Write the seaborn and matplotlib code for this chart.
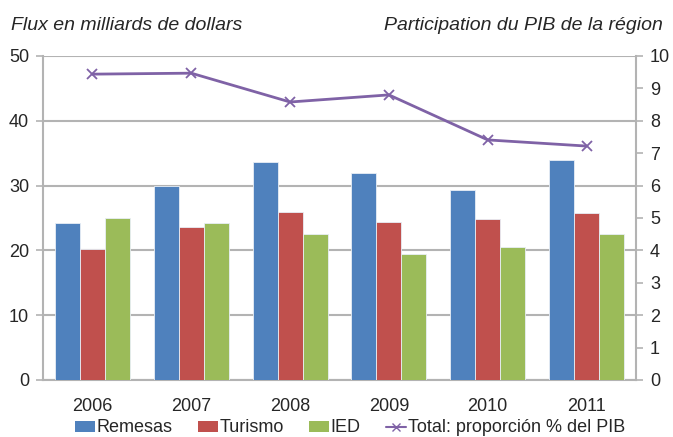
import matplotlib
matplotlib.use("Agg")
import matplotlib.pyplot as plt
from matplotlib.lines import Line2D
from matplotlib.patches import Patch
import numpy as np
import pandas as pd
import seaborn as sns

years = ["2006", "2007", "2008", "2009", "2010", "2011"]
remesas = [24.2, 29.9, 33.6, 31.9, 29.3, 34.0]
turismo = [20.2, 23.6, 25.9, 24.4, 24.8, 25.8]
ied = [25.0, 24.2, 22.5, 19.4, 20.5, 22.5]
total_pib = [9.44, 9.47, 8.58, 8.80, 7.41, 7.22]

series = ["Remesas", "Turismo", "IED"]
colors = ["#4F81BD", "#C0504D", "#9BBB59"]
line_color = "#7F62A6"
grid_color = "#B3B3B3"

sns.set_style("white")
plt.rcParams["font.family"] = ["Liberation Sans", "DejaVu Sans"]
plt.rcParams["font.size"] = 13

df = pd.DataFrame({
    "year": years * 3,
    "value": remesas + turismo + ied,
    "serie": [s for s in series for _ in years],
})

fig = plt.figure(figsize=(6.73, 4.37), dpi=100)
ax = fig.add_axes([43 / 673, 1 - 380 / 437, (636 - 43) / 673, (380 - 56) / 437])

sns.barplot(data=df, x="year", y="value", hue="serie", hue_order=series,
            palette=colors, saturation=1, width=0.76, ax=ax, legend=False,
            edgecolor="#E8EEF6", linewidth=0.6, zorder=3)

ax.set_xlim(-0.5, 5.5)
ax.set_ylim(0, 50)
ax.set_yticks(range(0, 51, 10))
ax.yaxis.grid(True, color=grid_color, linewidth=1.5, zorder=0)
ax.set_axisbelow(True)
ax.set_xlabel("")
ax.set_ylabel("")
ax.set_xticks(range(len(years)))
ax.set_xticks(np.arange(-0.5, 5.6, 1), minor=True)
ax.tick_params(axis="x", which="major", length=0, pad=13, labelsize=13)
ax.tick_params(axis="x", which="minor", length=5, color=grid_color, width=1.2, direction="out")
ax.tick_params(axis="y", length=5, color=grid_color, width=1.2, direction="out", pad=5, labelsize=13)
for side in ["left", "bottom"]:
    ax.spines[side].set_color(grid_color)
    ax.spines[side].set_linewidth(1.5)
ax.spines["top"].set_visible(False)
ax.spines["right"].set_visible(False)

ax2 = ax.twinx()
sns.lineplot(x=np.arange(len(years)), y=total_pib, ax=ax2, color=line_color,
             linewidth=2, marker="x", markersize=7, markeredgewidth=1.3,
             markeredgecolor=line_color, zorder=5)
ax2.set_ylim(0, 10)
ax2.set_yticks(range(0, 11))
ax2.tick_params(axis="y", length=5, color=grid_color, width=1.2, direction="out", pad=5, labelsize=13)
ax2.spines["right"].set_color(grid_color)
ax2.spines["right"].set_linewidth(1.5)
for side in ["left", "top", "bottom"]:
    ax2.spines[side].set_visible(False)
ax2.set_ylabel("")

fig.text(11 / 673, 1 - 25 / 437, "Flux en milliards de dollars", fontsize=14,
         style="italic", ha="left", va="center")
fig.text(663 / 673, 1 - 25 / 437, "Participation du PIB de la région", fontsize=14,
         style="italic", ha="right", va="center")

handles = [Patch(facecolor=c, edgecolor="none") for c in colors]
handles.append(Line2D([], [], color=line_color, linewidth=1.5, marker="x",
                      markersize=6, markeredgecolor=line_color))
fig.legend(handles, series + ["Total: proporción % del PIB"], loc="center",
           bbox_to_anchor=(350 / 673, 1 - 428 / 437), ncol=4, frameon=False,
           fontsize=13, handlelength=1.1, handleheight=0.55, handletextpad=0.1,
           columnspacing=1.4, borderpad=0)

fig.savefig("out.png", dpi=100)
plt.close(fig)
